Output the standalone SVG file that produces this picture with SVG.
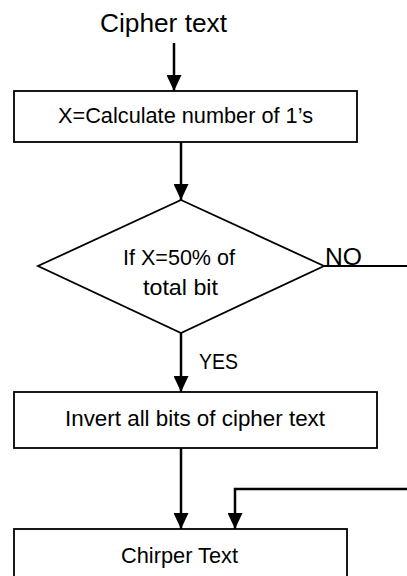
<svg xmlns="http://www.w3.org/2000/svg" width="407" height="576" viewBox="0 0 407 576">
<style>
  .box { fill: #ffffff; stroke: #000000; stroke-width: 1.8; }
  .con { fill: none; stroke: #000000; stroke-width: 2.5; }
  .thin { fill: none; stroke: #000000; stroke-width: 1.8; }
  text { font-family: "Liberation Sans", Arial, sans-serif; fill: #000000; }
  .lbl { font-size: 21.5px; }
  .mid { text-anchor: middle; }
</style>
<defs>
  <marker id="arrow" markerUnits="userSpaceOnUse" markerWidth="16" markerHeight="15" refX="16" refY="7.5" orient="auto">
    <path d="M0,0 L16,7.5 L0,15 Z" fill="#000000"/>
  </marker>
</defs>
<rect width="407" height="576" fill="#ffffff"/>
<g id="start">
  <text x="163.5" y="32" class="mid" font-size="25" textLength="127" lengthAdjust="spacingAndGlyphs">Cipher text</text>
</g>
<g id="calc">
  <rect class="box" x="14" y="91" width="343" height="51"/>
  <text x="185.5" y="123" class="lbl mid" textLength="255" lengthAdjust="spacingAndGlyphs">X=Calculate number of 1’s</text>
</g>
<g id="decision">
  <polygon class="box" points="181,200 324,266 181,333 38,266"/>
  <text x="179" y="265" class="lbl mid" textLength="112" lengthAdjust="spacingAndGlyphs">If X=50% of</text>
  <text x="180.5" y="295" class="lbl mid" textLength="75" lengthAdjust="spacingAndGlyphs">total bit</text>
</g>
<g id="invert">
  <rect class="box" x="14" y="392" width="363" height="56"/>
  <text x="195" y="426" class="lbl mid" textLength="260" lengthAdjust="spacingAndGlyphs">Invert all bits of cipher text</text>
</g>
<g id="result">
  <rect class="box" x="14" y="529" width="333" height="60"/>
  <text x="179.5" y="563" class="lbl mid" textLength="117" lengthAdjust="spacingAndGlyphs">Chirper Text</text>
</g>
<g id="connectors">
  <line class="con" x1="174" y1="43" x2="174" y2="91" marker-end="url(#arrow)"/>
  <line class="con" x1="181" y1="142" x2="181" y2="200" marker-end="url(#arrow)"/>
  <line class="con" x1="181" y1="333" x2="181" y2="392" marker-end="url(#arrow)"/>
  <line class="con" x1="181" y1="448" x2="181" y2="529" marker-end="url(#arrow)"/>
  <line class="thin" x1="324" y1="266" x2="407" y2="266"/>
  <polyline class="con" points="407,489 235,489 235,529" marker-end="url(#arrow)"/>
  <text x="325" y="265" font-size="24" textLength="37" lengthAdjust="spacingAndGlyphs">NO</text>
  <text x="199" y="369" font-size="21.5" textLength="39" lengthAdjust="spacingAndGlyphs">YES</text>
</g>
</svg>
